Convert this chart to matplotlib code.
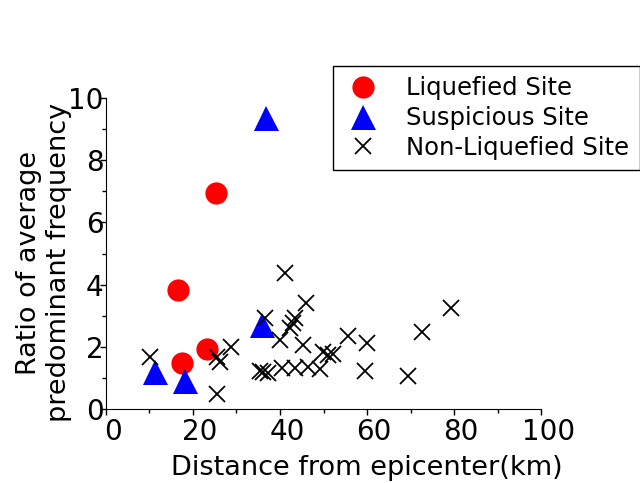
import numpy as np
import matplotlib
matplotlib.use("Agg")
import matplotlib.pyplot as plt
from matplotlib.ticker import MultipleLocator
from matplotlib.transforms import ScaledTranslation

# data
liq_dist = [16.6, 17.5, 23.3, 25.4]
liq_ratio = [3.84, 1.48, 1.94, 6.94]

sus_dist = [11.3, 18.3, 35.8, 36.9]
sus_ratio = [1.19, 0.90, 2.70, 9.35]

non_dist = [10.2, 25.5, 25.6, 26.3, 28.8, 36.5, 35.4, 36.1, 37.2, 40.0,
            41.1, 40.5, 43.4, 46.4, 49.2, 42.3, 43.0, 43.4, 45.3, 46.0,
            49.9, 51.0, 52.2, 55.6, 59.9, 59.5, 69.3, 72.7, 79.2]
non_ratio = [1.67, 0.48, 1.67, 1.50, 1.99, 2.93, 1.22, 1.19, 1.16, 2.22,
             4.37, 1.32, 1.32, 1.35, 1.29, 2.60, 2.77, 2.93, 2.06, 3.41,
             1.83, 1.74, 1.77, 2.35, 2.12, 1.22, 1.06, 2.48, 3.24]

plt.rcParams['font.family'] = ['DejaVu Sans']

fig = plt.figure(figsize=(6.4, 4.83), dpi=100)
ax = fig.add_axes([0.165, 0.153, 0.681, 0.644])

ax.plot(liq_dist, liq_ratio, 'o', color='red', ms=16, mew=0, label='Liquefied Site')
ax.plot(sus_dist, sus_ratio, '^', color='blue', ms=18, mew=0, label='Suspicious Site')
ax.plot(non_dist, non_ratio, 'x', color='black', ms=12, mew=1.3, label='Non-Liquefied Site')

ax.set_xlim(0, 100)
ax.set_ylim(0, 10)
ax.xaxis.set_major_locator(MultipleLocator(20))
ax.xaxis.set_minor_locator(MultipleLocator(10))
ax.yaxis.set_major_locator(MultipleLocator(2))
ax.yaxis.set_minor_locator(MultipleLocator(1))

for s in ['top', 'right']:
    ax.spines[s].set_visible(False)

ax.tick_params(which='major', length=4.5, width=1, labelsize=20)
ax.tick_params(which='minor', length=3, width=1)
ax.tick_params(axis='x', pad=2)
ax.tick_params(axis='y', pad=-3)

# x tick labels sit a little right of their ticks in the reference
shift = ScaledTranslation(7 / 100, 0, fig.dpi_scale_trans)
for lbl in ax.get_xticklabels():
    lbl.set_transform(lbl.get_transform() + shift)

ax.set_xlabel('Distance from epicenter(km)', fontsize=19.5)
ax.set_ylabel('Ratio of average\npredominant frequency', fontsize=19.5)
ax.xaxis.set_label_coords(0.6, -0.148)
ax.yaxis.set_label_coords(-0.077, 0.47)

leg = ax.legend(loc='upper left', bbox_to_anchor=(333 / 640, 1 - 66 / 483),
                bbox_transform=fig.transFigure, fontsize=17.5, fancybox=False,
                edgecolor='black', framealpha=1, borderaxespad=0,
                handlelength=1.6, handletextpad=1.0, labelspacing=0.24,
                borderpad=0.42)
leg.get_frame().set_linewidth(1)

fig.savefig('out.png', dpi=100)
